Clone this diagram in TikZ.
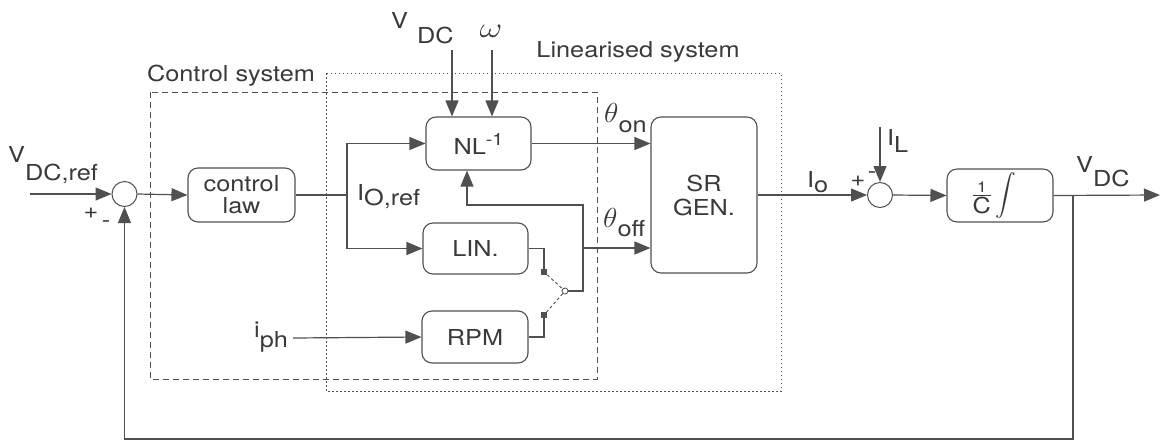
\RequirePackage{fix-cm}
\documentclass[tikz,border=0pt]{standalone}
\usepackage{amsmath}
\usepackage{fontspec}
\setmainfont[FakeStretch=1.15]{TeX Gyre Heros}
\usetikzlibrary{arrows.meta}
\definecolor{ln}{HTML}{505050}
\definecolor{tx}{HTML}{3A3A3A}
\begin{document}
\begin{tikzpicture}[x=1pt,y=-1pt,
  font=\fontsize{22}{24}\selectfont, text=tx,
  blk/.style={draw=ln, line width=1.1pt, rounded corners=10pt, inner sep=0pt, align=center, fill=white},
  wire/.style={draw=ln, line width=1.2pt},
  arr/.style={wire, -{Triangle[length=16pt,width=13pt]}},
  sumc/.style={circle, draw=ln, line width=1pt, minimum size=25pt, inner sep=0pt},
  lbl/.style={inner sep=0pt, anchor=base west},
  sq/.style={rectangle, fill=ln, minimum size=6pt, inner sep=0pt},
  ctrlbox/.style={draw=ln, line width=0.9pt, dash pattern=on 6pt off 4pt},
  linbox/.style={draw=ln, line width=0.9pt, dash pattern=on 1.5pt off 2.5pt}]
\fill[white] (0,0) rectangle (1169,440);
\useasboundingbox (0,0) rectangle (1169,440);

% boxes
\draw[ctrlbox] (150,92) rectangle (597,379);
\draw[linbox] (326,73) rectangle (781,391);
\node[inner sep=0pt] (tcs) at (231,76) {Control system};
\node[inner sep=0pt] (tls) at (638,52) {Linearised system};

% blocks
\node[sumc] (s1) at (124.5,194) {};
\node[blk, minimum width=107pt, minimum height=54pt] (law) at (241.5,195) {control\\[-2pt]law};
\node[blk, minimum width=105pt, minimum height=53pt] (nl) at (478.5,143.5) {NL\raisebox{9pt}{\fontsize{17}{17}\selectfont -1}};
\node[blk, minimum width=105pt, minimum height=51pt] (lin) at (475.5,248.5) {LIN.};
\node[blk, minimum width=106pt, minimum height=52pt] (rpm) at (475,337) {RPM};
\node[blk, minimum width=106pt, minimum height=156pt] (sr) at (704,195) {SR\\GEN.};
\node[sumc] (s2) at (880,195) {};
\node[blk, minimum width=106pt, minimum height=53pt] (int) at (1000,195.5) {$\frac{\mbox{\fontsize{15}{15}\selectfont 1}}{\mbox{C}}\displaystyle\int$\hspace*{12pt}};

% switch
\node[sq] (sq1) at (544,272) {};
\node[sq] (sq2) at (544,315) {};
\node[circle, draw=ln, line width=0.8pt, minimum size=6pt, inner sep=0pt, fill=white] (pv) at (565,291) {};
\draw[draw=ln, line width=0.9pt, dash pattern=on 3pt off 2.5pt] (sq1) -- (pv) -- (sq2);

% coordinates
\coordinate (in) at (30,194);
\coordinate (j1) at (347,195);
\coordinate (vin) at (452,50);
\coordinate (win) at (492,50);
\coordinate (jf) at (583,291);
\coordinate (k) at (467,205);
\coordinate (jo) at (583,248);
\coordinate (iph) at (293,338);
\coordinate (il) at (880,127);
\coordinate (out) at (1160,195);
\coordinate (br) at (1073,195);
\coordinate (bot) at (600,439);

% connectors
\draw[arr] (in) -- (s1.west);
\draw[arr] (s1.east) -- (law.west);
\draw[wire] (law.east) -- (j1);
\draw[arr] (j1) |- (nl.west);
\draw[arr] (j1) |- (lin.west);
\draw[arr] (vin) -- (vin |- nl.north);
\draw[arr] (win) -- (win |- nl.north);
\draw[arr] (nl.east) -- (nl.east -| sr.west);
\draw[arr] (jo) -- (jo -| sr.west);
\draw[wire] (lin.east) -| (sq1);
\draw[wire] (rpm.east) -| (sq2);
\draw[arr] (pv.east) -- (jf) |- (k) -- (k |- nl.south);
\draw[arr] (iph) -- (rpm.west);
\draw[arr] (sr.east) -- (s2.west);
\draw[arr] (il) -- (s2.north);
\draw[arr] (s2.east) -- (int.west);
\draw[arr] (int.east) -- (out);
\draw[arr] (br) -- (br |- bot) -- (s1 |- bot) -- (s1.south);

% labels
\node[lbl] (lvref) at (8,162) {V\raisebox{-18pt}{DC,ref}};
\node[inner sep=0pt] (p1) at (91,213) {+};
\node[inner sep=0pt] (m1) at (106,224) {-};
\node[lbl] (lioref) at (357,200) {I\raisebox{-5pt}{O,ref}};
\node[lbl] (lvdc1) at (391,28) {V\hspace{9pt}\raisebox{-15pt}{DC}};
\node[inner sep=0pt] (lw) at (491,31) {\scalebox{1.6}[1.3]{$\omega$}};
\node[lbl] (lon) at (604,122) {\scalebox{1.35}[1.25]{$\theta$}\raisebox{-10pt}{on}};
\node[lbl] (loff) at (603,227) {\scalebox{1.35}[1.25]{$\theta$}\raisebox{-9pt}{off}};
\node[lbl] (liph) at (254,337) {i\raisebox{-10pt}{ph}};
\node[lbl] (lio) at (807,187) {I\raisebox{-5pt}{o}};
\node[inner sep=0pt] (p2) at (858,181) {+};
\node[inner sep=0pt] (m2) at (872,175) {-};
\node[lbl] (lil) at (887,145) {I\raisebox{-7pt}{L}};
\node[lbl] (lvdc2) at (1076,172) {V\raisebox{-14pt}{DC}};
\end{tikzpicture}
\end{document}
